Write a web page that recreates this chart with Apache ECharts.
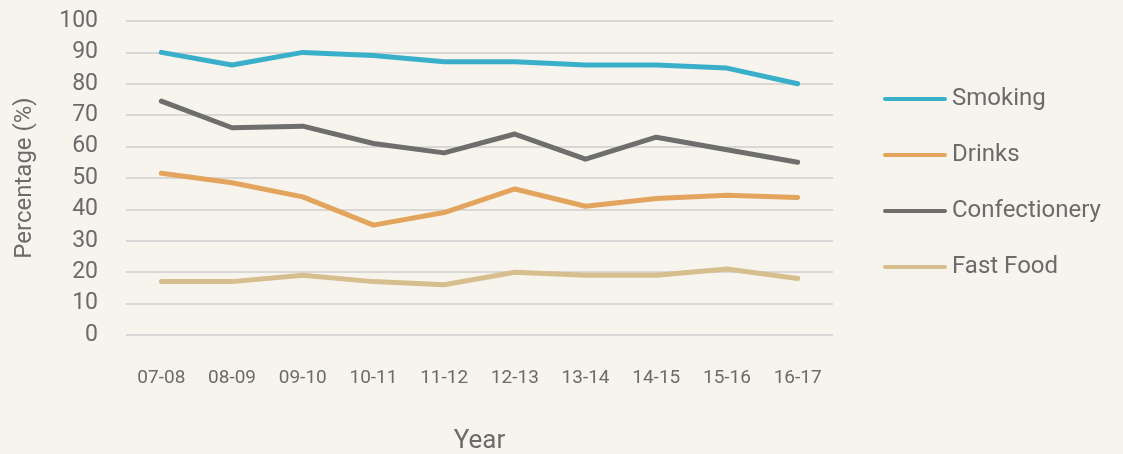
<!DOCTYPE html>
<html>
<head>
    <meta charset="utf-8">
    <title>Percentage by year</title>
    <script src="https://cdn.jsdelivr.net/npm/echarts@6/dist/echarts.min.js"></script>
    <style>
        html, body { margin: 0; padding: 0; background: #f6f4ec; }
    </style>
</head>
<body>
<div id="main" style="width: 1123px;height:454px;"></div>
<script type="text/javascript">
    var years = ['07-08', '08-09', '09-10', '10-11', '11-12', '12-13', '13-14', '14-15', '15-16', '16-17'];
    var smoking = [90, 86, 90, 89, 87, 87, 86, 86, 85, 80];
    var drinks = [51.5, 48.5, 44, 35, 39, 46.5, 41, 43.5, 44.5, 43.8];
    var confectionery = [74.5, 66, 66.5, 61, 58, 64, 56, 63, 59, 55];
    var fastFood = [17, 17, 19, 17, 16, 20, 19, 19, 21, 18];

    var textColor = '#6b6b6b';
    var font = 'Roboto';

    function line(name, data, color) {
        return {
            name: name,
            type: 'line',
            data: data,
            showSymbol: false,
            symbol: 'none',
            lineStyle: { width: 5, color: color, cap: 'round', join: 'round' },
            itemStyle: { color: color }
        };
    }

    var myChart = echarts.init(document.getElementById('main'));
    var option = {
        backgroundColor: '#f6f4ec',
        animation: false,
        textStyle: { fontFamily: font },
        grid: {
            top: 21,
            bottom: 119,
            left: 126,
            right: 290,
            containLabel: false,
            outerBoundsMode: 'none'
        },
        legend: {
            orient: 'vertical',
            left: 878,
            top: 82,
            itemGap: 32,
            itemWidth: 64,
            itemHeight: 25,
            icon: 'path://M2,10.5 L62,10.5 A2,2 0 0 1 62,14.5 L2,14.5 A2,2 0 0 1 2,10.5 Z',
            textStyle: { color: textColor, fontSize: 24, fontFamily: font, padding: [0, 0, 0, 0] },
            data: ['Smoking', 'Drinks', 'Confectionery', 'Fast Food']
        },
        xAxis: {
            type: 'category',
            data: years,
            name: 'Year',
            nameLocation: 'middle',
            nameGap: 93,
            nameTextStyle: { color: textColor, fontSize: 26, fontFamily: font },
            axisLine: { show: false },
            axisTick: { show: false },
            axisLabel: { color: textColor, fontSize: 19, margin: 34, fontFamily: font }
        },
        yAxis: {
            type: 'value',
            min: 0,
            max: 100,
            interval: 10,
            name: 'Percentage (%)',
            nameLocation: 'middle',
            nameGap: 89,
            nameTextStyle: { color: textColor, fontSize: 24, fontFamily: font },
            axisLine: { show: false },
            axisTick: { show: false },
            axisLabel: { color: textColor, fontSize: 23, margin: 28, fontFamily: font },
            splitLine: { lineStyle: { color: '#d9d8d6', width: 2 } }
        },
        series: [
            line('Smoking', smoking, '#3aafc9'),
            line('Drinks', drinks, '#e3a45e'),
            line('Confectionery', confectionery, '#6e6e6c'),
            line('Fast Food', fastFood, '#d6be8e')
        ]
    };
    myChart.setOption(option);
</script>
</body>
</html>
